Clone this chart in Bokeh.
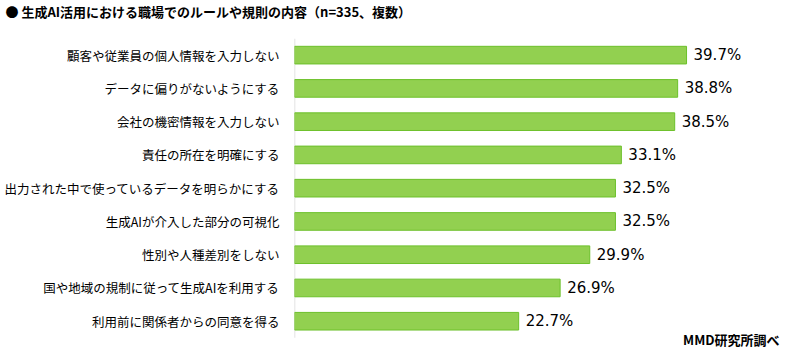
from bokeh.plotting import figure
from bokeh.models import ColumnDataSource, Range1d, Title, Label, FixedTicker
from bokeh.core.properties import value
from bokeh.embed import file_html
from bokeh.resources import INLINE

categories = [
    "顧客や従業員の個人情報を入力しない",
    "データに偏りがないようにする",
    "会社の機密情報を入力しない",
    "責任の所在を明確にする",
    "出力された中で使っているデータを明らかにする",
    "生成AIが介入した部分の可視化",
    "性別や人種差別をしない",
    "国や地域の規制に従って生成AIを利用する",
    "利用前に関係者からの同意を得る",
]
values = [39.7, 38.8, 38.5, 33.1, 32.5, 32.5, 29.9, 26.9, 22.7]
value_labels = [f"{v:.1f}%" for v in values]
title_text = "●  生成AI活用における職場でのルールや規則の内容（n=335、複数）"
source_text = "MMD研究所調べ"

W, H = 784, 348
ML = 294
n = len(categories)
pos = list(range(n))
PX_PER_PCT = 9.875

src = ColumnDataSource(dict(y=pos, val=values, lab=value_labels))

p = figure(
    width=W, height=H, output_backend="svg", toolbar_location=None,
    y_range=Range1d(n - 0.5 + 0.32, -0.5),
    x_range=Range1d(0, (W - ML) / PX_PER_PCT),
    x_axis_location=None,
    min_border_left=ML, min_border_right=0, min_border_top=0, min_border_bottom=0,
)
p.outline_line_color = None
p.grid.visible = False
p.background_fill_color = "white"
p.border_fill_color = "white"

# vertical category axis line spanning the rows
p.segment(x0=[0], y0=[-0.5], x1=[0], y1=[n - 0.5], line_color="#D9D9D9", line_width=1.5)

p.hbar(y="y", right="val", left=0, height=0.53, source=src,
       fill_color="#92D050", line_color="#6CC02A", line_width=1)

p.text(x="val", y="y", text="lab", source=src, x_offset=7,
       text_align="left", text_baseline="middle",
       text_font=value("DejaVu Sans"), text_font_size="15px", text_color="#000000")

ax = p.yaxis[0]
ax.ticker = FixedTicker(ticks=pos)
ax.major_label_overrides = {i: c for i, c in zip(pos, categories)}
ax.axis_line_color = None
ax.major_tick_line_color = None
ax.minor_tick_line_color = None
ax.major_tick_out = 0
ax.major_tick_in = 0
ax.major_label_standoff = 15
ax.major_label_text_font = "Noto Sans CJK JP"
ax.major_label_text_font_size = "12.5px"
ax.major_label_text_color = "#000000"

# spacer between title and frame (closest to frame), then the title
p.add_layout(Title(text=" ", standoff=2, text_font_size="10px",
                   text_color="white"), "above")
p.add_layout(Title(text=title_text, align="left", offset=5 - ML, standoff=2,
                   vertical_align="top",
                   text_font="Noto Sans CJK JP", text_font_size="13px",
                   text_font_style="bold", text_color="#000000"), "above")

p.add_layout(Label(x=W - 5 - ML, y=9, x_units="screen", y_units="screen",
                   text=source_text, text_align="right", text_baseline="middle",
                   text_font="Noto Sans CJK JP", text_font_size="13px",
                   text_font_style="bold", text_color="#000000"))

open("out.html", "w").write(file_html(p, INLINE))
